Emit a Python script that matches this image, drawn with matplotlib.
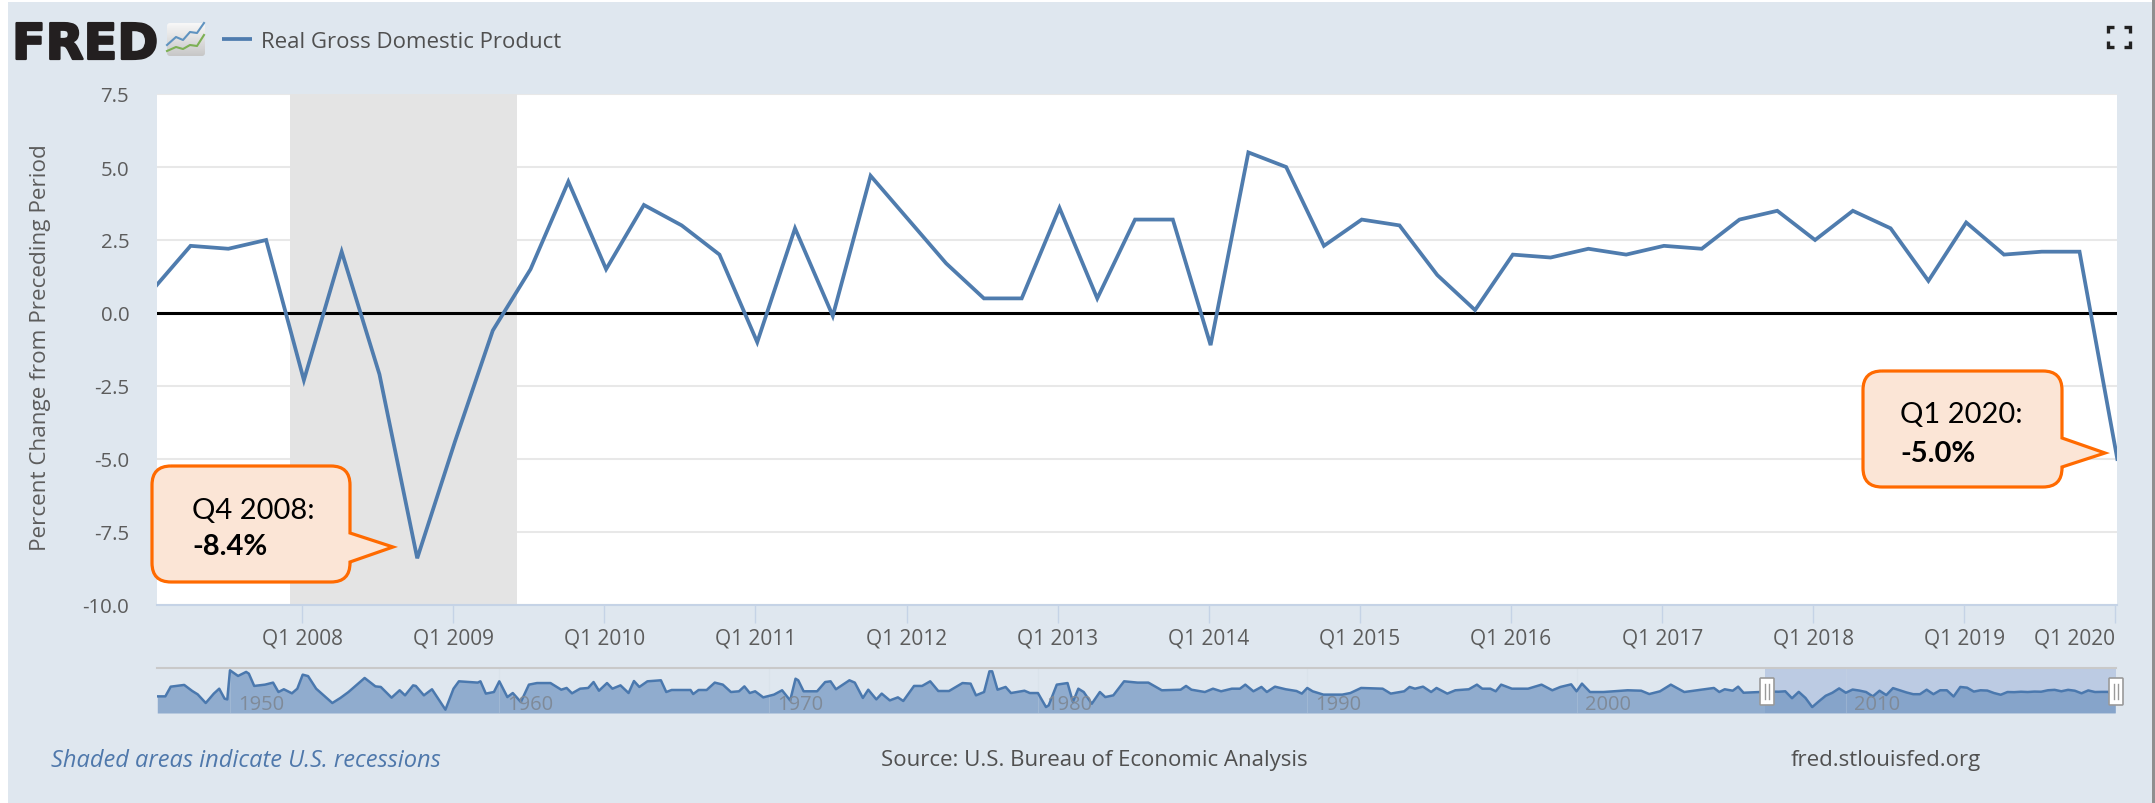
import numpy as np
import matplotlib
matplotlib.use("Agg")
import matplotlib.pyplot as plt
import matplotlib.patheffects as pe
from matplotlib.patches import FancyBboxPatch, PathPatch, Rectangle
from matplotlib.path import Path

plt.rcParams["font.family"] = ["Open Sans", "DejaVu Sans"]

W, H = 2155, 804

# ── Data ────────────────────────────────────────────────────────────────
# quarterly change, Q1 2007 to Q1 2020
START_YEAR = 2007
POINT_OFFSET = 0.012  # points sit a touch right of their tick in the original
GDP = [
    0.8, 2.3, 2.2, 2.5,
    -2.3, 2.1, -2.1, -8.4,
    -4.4, -0.6, 1.5, 4.5,
    1.5, 3.7, 3.0, 2.0,
    -1.0, 2.9, -0.1, 4.7,
    3.2, 1.7, 0.5, 0.5,
    3.6, 0.5, 3.2, 3.2,
    -1.1, 5.5, 5.0, 2.3,
    3.2, 3.0, 1.3, 0.1,
    2.0, 1.9, 2.2, 2.0,
    2.3, 2.2, 3.2, 3.5,
    2.5, 3.5, 2.9, 1.1,
    3.1, 2.0, 2.1, 2.1,
    -5.0,
]
RECESSION = (2007.92, 2009.42)
Y_TICKS = [7.5, 5.0, 2.5, 0.0, -2.5, -5.0, -7.5, -10.0]
TICK_YEARS = list(range(2008, 2021))

# navigator overview, 1947 to 2006
NAV_YEARS = [
    1947.3, 1947.6, 1947.8, 1948.3, 1948.6, 1948.8, 1949.1, 1949.4, 1949.6, 1949.8,
    1949.9, 1950.0, 1950.3, 1950.6, 1950.7, 1950.9, 1951.3, 1951.6, 1951.8, 1952.0,
    1952.3, 1952.5, 1952.7, 1952.9, 1953.2, 1953.8, 1954.1, 1954.4, 1955.0, 1955.4,
    1955.6, 1956.0, 1956.3, 1956.5, 1956.8, 1956.9, 1957.2, 1957.5, 1958.0, 1958.3,
    1958.5, 1959.2, 1959.3, 1959.5, 1959.8, 1960.0, 1960.3, 1960.5, 1960.8, 1961.1,
    1961.4, 1961.9, 1962.3, 1962.5, 1962.7, 1963.0, 1963.3, 1963.5, 1963.7, 1964.0,
    1964.2, 1964.5, 1964.8, 1965.0, 1965.2, 1965.5, 1966.0, 1966.2, 1966.4, 1967.1,
    1967.2, 1967.4, 1967.7, 1968.0, 1968.3, 1968.6, 1968.9, 1969.1, 1969.3, 1969.5,
    1969.8, 1970.2, 1970.5, 1970.8, 1971.0, 1971.1, 1971.3, 1971.8, 1972.1, 1972.3,
    1972.5, 1973.0, 1973.2, 1973.5, 1973.7, 1974.0, 1974.2, 1974.5, 1974.8, 1975.0,
    1975.4, 1975.7, 1976.0, 1976.3, 1976.7, 1977.2, 1977.5, 1977.7, 1978.0, 1978.2,
    1978.3, 1978.5, 1978.8, 1979.0, 1979.5, 1979.7, 1980.0, 1980.3, 1980.4, 1980.7,
    1981.1, 1981.3, 1981.5, 1981.7, 1982.0, 1982.3, 1982.5, 1982.8, 1983.2, 1983.7,
    1984.1, 1984.6, 1985.3, 1985.5, 1985.7, 1986.2, 1986.5, 1986.8, 1987.2, 1987.5,
    1987.7, 1988.0, 1988.3, 1988.5, 1988.8, 1989.2, 1989.6, 1989.8, 1990.0, 1990.2,
    1990.6, 1991.3, 1991.6, 1992.0, 1992.8, 1993.1, 1993.6, 1993.8, 1994.0, 1994.3,
    1994.6, 1994.8, 1995.2, 1995.5, 1996.0, 1996.3, 1996.5, 1996.8, 1997.0, 1997.2,
    1997.6, 1998.2, 1998.7, 1999.1, 1999.4, 1999.8, 2000.0, 2000.2, 2000.5, 2001.0,
    2001.9, 2002.4, 2002.7, 2003.1, 2003.5, 2004.0, 2005.1, 2005.3, 2005.5, 2005.8,
    2006.0, 2006.2, 2006.8,
]
NAV_VALUES = [
    -1.0, -1.0, 5.7, 6.9, 2.7, 0.4, -5.6, 0.9, 4.3, -2.6,
    -3.1, 17.0, 13.1, 15.9, 14.7, 6.2, 7.1, 8.5, 2.0, 3.9,
    1.1, 4.3, 14.0, 13.0, 4.3, -5.6, -2.1, 2.0, 11.7, 5.9,
    5.5, -1.9, 3.2, -0.3, 6.6, 6.2, -0.3, 3.9, -10.2, 4.3,
    9.4, 8.5, 9.4, 0.9, 2.0, 9.4, -1.5, 1.3, -4.9, 7.1,
    8.2, 8.2, 3.6, 4.8, 1.1, 4.3, 4.8, 8.9, 2.9, 8.2,
    4.3, 6.6, 1.3, 9.6, 5.5, 9.4, 10.1, 2.0, 3.4, 3.4,
    0.6, 3.4, 3.4, 8.5, 7.1, 2.0, 2.5, 5.9, 1.3, 2.5,
    -1.7, 0.2, 3.2, -3.8, 11.2, 10.1, 2.5, 2.5, 8.9, 9.4,
    3.9, 10.1, 8.5, -2.1, 3.6, -3.1, 0.9, -3.8, -1.7, -4.2,
    6.2, 6.2, 9.4, 2.7, 2.7, 8.2, 7.8, -0.3, 2.0, 16.3,
    16.3, 3.6, 5.5, 1.3, 2.9, 1.3, 1.3, -8.4, -7.2, 7.1,
    8.2, -4.9, 4.3, 2.0, -6.1, 2.0, -1.5, -0.3, 9.4, 8.5,
    8.5, 3.2, 3.6, 6.2, 3.6, 2.0, 4.3, 2.5, 4.3, 4.3,
    7.1, 2.5, 5.5, 2.0, 5.7, 3.9, 2.7, 0.9, 4.8, 2.5,
    0.2, 0.2, 1.3, 4.8, 4.3, 0.9, 2.5, 5.5, 4.3, 5.7,
    2.0, 4.8, 0.9, 3.2, 3.9, 7.1, 4.3, 4.3, 2.5, 7.1,
    4.3, 4.3, 7.1, 3.2, 5.5, 7.3, 2.5, 7.8, 2.0, 2.0,
    3.2, 2.9, 0.6, 2.5, 7.1, 2.0, 4.8, 2.0, 3.9, 2.9,
    5.7, 1.5, 2.0,
]
NAV_DECADES = [1950, 1960, 1970, 1980, 1990, 2000, 2010]

# ── Colours ─────────────────────────────────────────────────────────────
C_PANEL = "#dfe7ef"
C_LINE = "#4f7cae"
C_TEXT = "#5c5c5c"
C_AXIS = "#c5d3e6"
C_GRID = "#e8e8e8"
C_ORANGE = "#ff6a00"
C_PEACH = "#fbe5d6"


def px_axes(fig, left, top, right, bottom, **kw):
    """Axes placed by pixel box, y counted from the top of the image."""
    return fig.add_axes([left / W, 1 - bottom / H, (right - left) / W, (bottom - top) / H], **kw)


def callout(ax, left, top, right, bottom, tip, base_top, base_bot, r=19):
    """Rounded box with a pointer on its right side."""
    verts = [
        (left + r, top), (right - r, top), (right, top), (right, top + r),
        (right, base_top), tip, (right, base_bot),
        (right, bottom - r), (right, bottom), (right - r, bottom),
        (left + r, bottom), (left, bottom), (left, bottom - r),
        (left, top + r), (left, top), (left + r, top),
    ]
    L, C = Path.LINETO, Path.CURVE3
    codes = [Path.MOVETO, L, C, C, L, L, L, L, C, C, L, C, C, L, C, C]
    ax.add_patch(PathPatch(Path(verts, codes), fc=C_PEACH, ec=C_ORANGE, lw=2.3,
                           joinstyle="miter", zorder=6))


fig = plt.figure(figsize=(W / 100, H / 100), dpi=100, facecolor="white")

# ── Page background ─────────────────────────────────────────────────────
page = px_axes(fig, 0, 0, W, H, zorder=0)
page.set_xlim(0, W)
page.set_ylim(H, 0)
page.axis("off")
page.add_patch(Rectangle((8, 3), 2144, 801, fc=C_PANEL, ec="none"))
page.add_patch(Rectangle((2152, 0), 3, 804, fc="#8f8f8f", ec="none"))

# ── Main chart ──────────────────────────────────────────────────────────
years = [START_YEAR + i / 4 for i in range(len(GDP))]

ax = px_axes(fig, 157, 95, 2117, 606, zorder=2)
ax.set_facecolor("white")
ax.set_xlim(2007.04, 2020.01)
ax.set_ylim(-10, 7.5)
ax.axvspan(*RECESSION, color="#e4e4e4", lw=0, zorder=1)
ax.grid(axis="y", color=C_GRID, lw=1.5, zorder=0)
ax.set_axisbelow(True)
ax.axhline(0, color="black", lw=2.2, zorder=2)
ax.plot([y + POINT_OFFSET for y in years], GDP, color=C_LINE, lw=2.7,
        solid_joinstyle="miter", zorder=3)

for side in ("top", "right", "left"):
    ax.spines[side].set_visible(False)
ax.spines["bottom"].set_color(C_AXIS)
ax.spines["bottom"].set_linewidth(1.5)

ax.set_yticks(Y_TICKS)
ax.set_yticklabels([f"{v:.1f}" for v in Y_TICKS], fontsize=14.7, color=C_TEXT)
ax.tick_params(axis="y", length=0, pad=20)
ax.set_xticks(TICK_YEARS)
ax.set_xticklabels([f"Q1 {y}" for y in TICK_YEARS], fontsize=15, color=C_TEXT)
ax.tick_params(axis="x", length=13, width=1, color=C_AXIS, pad=3)
ax.get_xticklabels()[-1].set_ha("right")
ax.set_ylabel("Percent Change from Preceding Period", fontsize=16.2, color=C_TEXT)
ax.yaxis.set_label_coords((51 - 157) / 1960, (606 - 348) / 511)

# ── Navigator ───────────────────────────────────────────────────────────
nav = px_axes(fig, 157, 669, 2116, 714, zorder=2)
nav.set_facecolor("none")
nav.set_xlim(1947.29, 2020.03)
nav.set_ylim(-12.5, 18.6)
nav_x = np.array(NAV_YEARS + years)
nav_y = np.array(NAV_VALUES + GDP)
nav.axvspan(2007.0, 2020.03, color="#bccbe3", lw=0, zorder=1)
nav.fill_between(nav_x, nav_y, -12.5, color="#6f94c0", alpha=0.7, lw=0, zorder=2)
nav.plot(nav_x, nav_y, color="#4a78ae", lw=1.8, zorder=3)
for d in NAV_DECADES:
    nav.axvline(d, color="#cfd8e3", lw=0.8, alpha=0.25, zorder=2)
    nav.text(d + 0.3, -6.5, str(d), fontsize=14.5, color="#7f8a98", va="center", ha="left", zorder=4)
nav.set_xticks([])
nav.set_yticks([])
for side in ("left", "right", "bottom"):
    nav.spines[side].set_visible(False)
nav.spines["top"].set_color("#c9c9c9")
nav.spines["top"].set_linewidth(1.5)

# ── Overlay: header, footer, callouts ───────────────────────────────────
top = px_axes(fig, 0, 0, W, H, zorder=5)
top.set_xlim(0, W)
top.set_ylim(H, 0)
top.axis("off")
top.patch.set_alpha(0)

# logo
logo = top.text(12, 60, "FRED", fontsize=35.5, fontweight="bold", family="DejaVu Sans",
                color="#231f20", va="baseline", ha="left")
logo.set_path_effects([pe.withStroke(linewidth=1.6, foreground="#231f20")])
box = FancyBboxPatch((168, 25), 36, 31, boxstyle="round,pad=1,rounding_size=3", fc="none", ec="none")
top.add_patch(box)
grad = np.linspace(0.97, 0.78, 64)[:, None]
im = top.imshow(grad, extent=(167, 205, 57, 24), cmap="gray", vmin=0, vmax=1, aspect="auto", zorder=2)
im.set_clip_path(box)
top.set_xlim(0, W)
top.set_ylim(H, 0)
top.plot([167, 176, 183, 190, 197, 204], [46, 38, 41, 33, 34, 24], color="#5f93c0", lw=1.5, zorder=3)
top.plot([167, 176, 183, 190, 197, 204], [52, 48, 50, 46, 47, 36], color="#7cb054", lw=1.5, zorder=3)

# legend
top.plot([222, 252], [40, 40], color=C_LINE, lw=2.7, solid_capstyle="butt")
top.text(261, 42, "Real Gross Domestic Product", fontsize=16, color="#505050", va="center", ha="left")

# fullscreen icon
for x0, y0, dx, dy in [(2108, 28, 1, 1), (2130, 28, -1, 1), (2108, 48, 1, -1), (2130, 48, -1, -1)]:
    top.plot([x0 + 6 * dx, x0, x0], [y0, y0, y0 + 6 * dy], color="#222222", lw=2.4,
             solid_joinstyle="miter", solid_capstyle="butt")

# navigator handles
for hx in (1767, 2116):
    top.add_patch(FancyBboxPatch((hx - 7, 679), 14, 27, boxstyle="round,pad=0,rounding_size=1",
                                 fc="white", ec="#9a9a9a", lw=1.2, zorder=4))
    top.plot([hx - 2, hx - 2], [685, 700], color="#9a9a9a", lw=1, zorder=5)
    top.plot([hx + 2, hx + 2], [685, 700], color="#9a9a9a", lw=1, zorder=5)

# footer
top.text(51, 761, "Shaded areas indicate U.S. recessions", fontsize=17, style="italic",
         color="#4f78ab", va="center", ha="left")
top.text(881, 761, "Source: U.S. Bureau of Economic Analysis", fontsize=16, color="#505050",
         va="center", ha="left")
top.text(1791, 761, "fred.stlouisfed.org", fontsize=16, color="#505050", va="center", ha="left")

# callouts
callout(top, 152, 467, 350, 583, (393, 548), 534, 563)
top.text(192, 511, "Q4 2008:", fontsize=21, family="Lato", color="black", va="center", ha="left", zorder=7)
top.text(192, 547, "-8.4%", fontsize=21, family="Lato", fontweight="bold", color="black",
         va="center", ha="left", zorder=7)
callout(top, 1863, 372, 2062, 488, (2105, 454), 439, 468)
top.text(1900, 415, "Q1 2020:", fontsize=21, family="Lato", color="black", va="center", ha="left", zorder=7)
top.text(1900, 454, "-5.0%", fontsize=21, family="Lato", fontweight="bold", color="black",
         va="center", ha="left", zorder=7)

fig.savefig("out.png", dpi=100, facecolor=fig.get_facecolor())
